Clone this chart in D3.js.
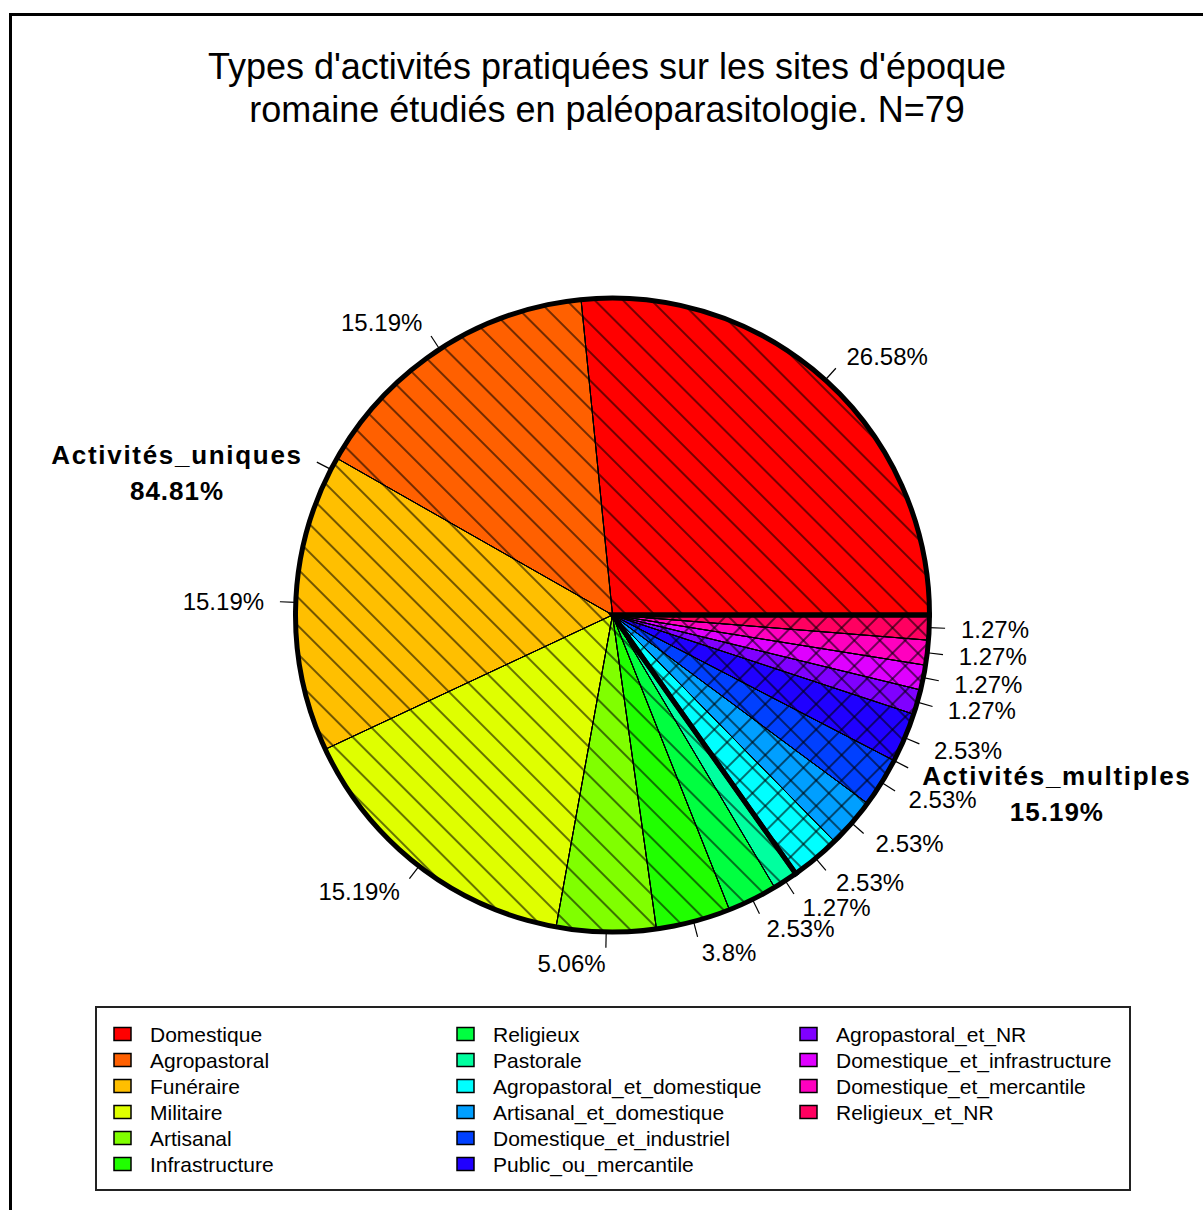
<!DOCTYPE html>
<html>
<head>
<meta charset="utf-8">
<script src="https://cdn.jsdelivr.net/npm/d3@7"></script>
<style>
  html, body { margin: 0; padding: 0; background: #fff; }
  svg { display: block; }
  text { font-family: "Liberation Sans", Arial, sans-serif; fill: #000; }
</style>
</head>
<body>
<svg id="chart" width="1203" height="1210"></svg>
<script>
// ---- Data ----
const titleLines = ["Types d'activités pratiquées sur les sites d'époque",
                    "romaine étudiés en paléoparasitologie. N=79"];
const categories = ["Domestique", "Agropastoral", "Funéraire", "Militaire", "Artisanal",
  "Infrastructure", "Religieux", "Pastorale", "Agropastoral_et_domestique",
  "Artisanal_et_domestique", "Domestique_et_industriel", "Public_ou_mercantile",
  "Agropastoral_et_NR", "Domestique_et_infrastructure", "Domestique_et_mercantile",
  "Religieux_et_NR"];
const counts = [21, 12, 12, 12, 4, 3, 2, 1, 2, 2, 2, 2, 1, 1, 1, 1];
const colors = ["#FF0000", "#FF6000", "#FFBF00", "#DFFF00", "#80FF00", "#20FF00",
  "#00FF40", "#00FF9F", "#00FFFF", "#009FFF", "#0040FF", "#2000FF",
  "#8000FF", "#DF00FF", "#FF00BF", "#FF0060"];
const groups = ["Activités_uniques", "Activités_multiples"];
const groupCounts = [67, 12];
const total = 79;

// ---- Layout ----
const svg = d3.select("#chart");
const cx = 612.5, cy = 615, R = 317;
const fmt = v => String(Math.round(v / total * 10000) / 100) + "%";

// frame
svg.append("rect").attr("x", 10.5).attr("y", 14.5).attr("width", 1300).attr("height", 1300)
  .attr("fill", "none").attr("stroke", "#000").attr("stroke-width", 3);

// title
svg.append("g").selectAll("text").data(titleLines).join("text")
  .attr("x", 607).attr("y", (d, i) => 78.5 + i * 43)
  .attr("text-anchor", "middle").attr("font-size", 36).text(d => d);

// hatch patterns
const defs = svg.append("defs");
function hatch(id, spacing, angles) {
  const p = defs.append("pattern").attr("id", id)
    .attr("patternUnits", "userSpaceOnUse")
    .attr("width", spacing).attr("height", spacing)
    .attr("patternTransform", `rotate(${angles})`);
  p.append("line").attr("x1", -1).attr("x2", spacing + 1)
    .attr("y1", spacing / 2).attr("y2", spacing / 2)
    .attr("stroke", "#000").attr("stroke-width", 1.1);
}
hatch("hatchBack", 20, 45);
hatch("hatchA", 18, 45);
hatch("hatchB", 18, -45);

// pie (counter-clockwise from 3 o'clock like R)
const pie = d3.pie().sort(null).value(d => d)
  .startAngle(Math.PI / 2).endAngle(Math.PI / 2 - 2 * Math.PI);
const arc = d3.arc().innerRadius(0).outerRadius(R);
const arcs = pie(counts);
const garcs = pie(groupCounts);

const g = svg.append("g").attr("transform", `translate(${cx},${cy})`);

g.selectAll("path.slice").data(arcs).join("path")
  .attr("class", "slice").attr("d", arc)
  .attr("fill", (d, i) => colors[i])
  .attr("stroke", "#000").attr("stroke-width", 1);

// group hatching
g.selectAll("path.gh1").data(garcs).join("path")
  .attr("class", "gh1").attr("d", arc)
  .attr("fill", (d, i) => i === 0 ? "url(#hatchBack)" : "url(#hatchA)")
  .attr("stroke", "none");
g.selectAll("path.gh2").data(garcs.filter((d, i) => i === 1)).join("path")
  .attr("class", "gh2").attr("d", arc)
  .attr("fill", "url(#hatchB)").attr("stroke", "none");

// thin slice borders again on top of hatching
g.selectAll("path.sb").data(arcs).join("path")
  .attr("class", "sb").attr("d", arc)
  .attr("fill", "none").attr("stroke", "#000").attr("stroke-width", 1);

// thick group borders
g.selectAll("path.gb").data(garcs).join("path")
  .attr("class", "gb").attr("d", arc)
  .attr("fill", "none").attr("stroke", "#000").attr("stroke-width", 5)
  .attr("stroke-linejoin", "miter");

const mid = d => (d.startAngle + d.endAngle) / 2;
const px = (a, r) => r * Math.sin(a);
const py = (a, r) => -r * Math.cos(a);

// ticks & labels for slices
g.selectAll("line.tick").data(arcs.concat(garcs)).join("line")
  .attr("class", "tick")
  .attr("x1", d => px(mid(d), R)).attr("y1", d => py(mid(d), R))
  .attr("x2", d => px(mid(d), R * 1.05)).attr("y2", d => py(mid(d), R * 1.05))
  .attr("stroke", "#000").attr("stroke-width", 1.2);

g.selectAll("text.lab").data(arcs).join("text")
  .attr("class", "lab")
  .attr("x", d => px(mid(d), R * 1.1)).attr("y", d => py(mid(d), R * 1.1))
  .attr("dy", "0.36em")
  .attr("text-anchor", d => px(mid(d), 1) < 0 ? "end" : "start")
  .attr("font-size", 24)
  .text(d => fmt(d.value));

// group labels (two lines, centred within the block)
garcs.forEach((d, i) => {
  const a = mid(d);
  const x = px(a, R * 1.1), y = py(a, R * 1.1);
  const t1 = g.append("text").attr("font-size", 26).attr("font-weight", "bold")
    .attr("letter-spacing", 1.7).attr("text-anchor", "middle")
    .attr("y", y).attr("dy", "0.36em").text(groups[i]);
  const w = t1.node().getComputedTextLength();
  const xc = px(a, 1) < 0 ? x - w / 2 : x + w / 2;
  t1.attr("x", xc);
  g.append("text").attr("font-size", 26).attr("font-weight", "bold")
    .attr("letter-spacing", 1).attr("text-anchor", "middle")
    .attr("x", xc).attr("y", y + 36).attr("dy", "0.36em").text(fmt(d.value));
});

// legend
svg.append("rect").attr("x", 96).attr("y", 1007).attr("width", 1034).attr("height", 183)
  .attr("fill", "none").attr("stroke", "#222").attr("stroke-width", 2);
const lg = svg.append("g").selectAll("g").data(categories).join("g")
  .attr("transform", (d, i) => `translate(${114 + Math.floor(i / 6) * 343},${1034 + (i % 6) * 26})`);
lg.append("rect").attr("x", 0).attr("y", -6.5).attr("width", 17).attr("height", 13)
  .attr("fill", (d, i) => colors[i]).attr("stroke", "#000").attr("stroke-width", 1.5);
lg.append("text").attr("x", 36).attr("y", 0).attr("dy", "0.36em")
  .attr("font-size", 21).text(d => d);
</script>
</body>
</html>
